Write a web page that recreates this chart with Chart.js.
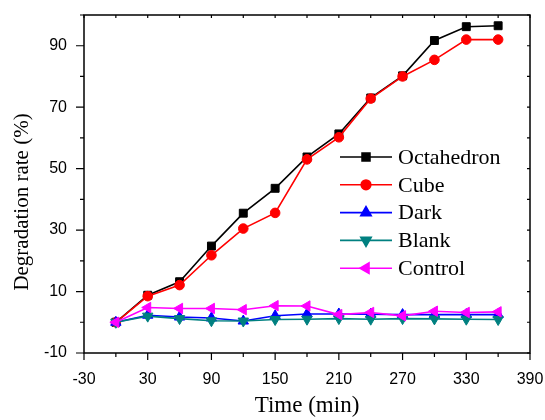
<!DOCTYPE html>
<html>
<head>
<meta charset="utf-8">
<script src="https://cdn.jsdelivr.net/npm/chart.js@4/dist/chart.umd.min.js"></script>
<style>
    html, body { margin: 0; padding: 0; background: #fff; }
</style>
</head>
<body>
<canvas id="chart" width="545" height="420"></canvas>
<script>
// data
const times = [0, 30, 60, 90, 120, 150, 180, 210, 240, 270, 300, 330, 360];
const octahedron = [0, 8.8, 13.2, 24.8, 35.5, 43.6, 53.8, 61.3, 73, 80.2, 91.7, 96.2, 96.5];
const cube = [0, 8.5, 12.1, 21.8, 30.5, 35.6, 53, 60.2, 72.8, 80, 85.4, 92, 92];
const dark = [0, 2.3, 1.7, 1.4, 0.4, 2.1, 2.7, 2.7, 2.6, 2.5, 2.5, 2.5, 2.5];
const blank = [0, 2, 1.2, 0.5, 0.4, 0.9, 1, 1.2, 1, 1.2, 1.1, 1, 0.9];
const control = [0, 4.8, 4.5, 4.5, 4.1, 5.4, 5.3, 2.5, 3.2, 2.1, 3.6, 3.2, 3.4];
const seriesNames = ["Octahedron", "Cube", "Dark", "Blank", "Control"];
const xTicks = [-30, 30, 90, 150, 210, 270, 330, 390];
const yTicks = [-10, 10, 30, 50, 70, 90];

const toPoints = (vals) => vals.map((v, i) => ({ x: times[i], y: v }));

function makeSet(name, vals, color, style, rot, radius, order) {
    return {
        label: name,
        data: toPoints(vals),
        borderColor: color,
        backgroundColor: color,
        borderWidth: 1.6,
        pointStyle: style,
        pointRotation: rot,
        pointRadius: radius,
        pointHoverRadius: radius,
        pointBorderWidth: 1,
        tension: 0,
        order: order,
    };
}

const datasets = [
    makeSet(seriesNames[0], octahedron, "#000000", "rect", 0, 5.6, 5),
    makeSet(seriesNames[1], cube, "#ff0000", "circle", 0, 4.8, 4),
    makeSet(seriesNames[2], dark, "#0000ff", "triangle", 0, 6, 3),
    makeSet(seriesNames[3], blank, "#008080", "triangle", 180, 6, 2),
    makeSet(seriesNames[4], control, "#ff00ff", "triangle", -90, 6, 1),
];

// frame, mirrored ticks, y title and the in-plot legend
const framePlugin = {
    id: "frame",
    afterDraw(chart) {
        const ctx = chart.ctx;
        const a = chart.chartArea;
        const xs = chart.scales.x;
        const ys = chart.scales.y;
        ctx.save();
        ctx.strokeStyle = "#000";
        ctx.lineWidth = 1.5;
        ctx.strokeRect(a.left, a.top, a.right - a.left, a.bottom - a.top);

        ctx.lineWidth = 1.2;
        ctx.beginPath();
        xs.ticks.forEach((t) => {
            const px = xs.getPixelForValue(t.value);
            const major = xTicks.includes(t.value);
            ctx.moveTo(px, a.bottom);
            ctx.lineTo(px, a.bottom + (major ? 7 : 4));
            ctx.moveTo(px, a.top);
            ctx.lineTo(px, a.top + 3);
        });
        ys.ticks.forEach((t) => {
            const py = ys.getPixelForValue(t.value);
            const major = yTicks.includes(t.value);
            ctx.moveTo(a.left, py);
            ctx.lineTo(a.left - (major ? 8 : 4), py);
            ctx.moveTo(a.right, py);
            ctx.lineTo(a.right - 3, py);
        });
        ctx.stroke();

        // y title
        ctx.fillStyle = "#000";
        ctx.font = '21px "Liberation Serif"';
        ctx.textAlign = "center";
        ctx.textBaseline = "middle";
        ctx.translate(22, 202);
        ctx.rotate(-Math.PI / 2);
        ctx.fillText("Degradation rate (%)", 0, 0);
        ctx.restore();

        // legend
        ctx.save();
        ctx.font = '22px "Liberation Serif"';
        ctx.textBaseline = "middle";
        ctx.fillStyle = "#000";
        chart.data.datasets.forEach((ds, i) => {
            const y = 157 + i * 27.8;
            ctx.strokeStyle = ds.borderColor;
            ctx.lineWidth = ds.borderWidth;
            ctx.beginPath();
            ctx.moveTo(340, y);
            ctx.lineTo(392, y);
            ctx.stroke();
            ctx.fillStyle = ds.backgroundColor;
            Chart.helpers.drawPoint(ctx, {
                pointStyle: ds.pointStyle,
                rotation: ds.pointRotation,
                radius: ds.pointRadius,
                borderWidth: 1,
            }, 366, y);
            ctx.fillStyle = "#000";
            ctx.fillText(ds.label, 398, y + 1);
        });
        ctx.restore();
    },
};

const ctx = document.getElementById("chart").getContext("2d");
new Chart(ctx, {
    type: "line",
    data: { datasets: datasets },
    options: {
        responsive: false,
        animation: false,
        layout: { padding: { top: 15, right: 15, left: 0, bottom: 0 } },
        plugins: {
            legend: { display: false },
            tooltip: { enabled: false },
        },
        scales: {
            x: {
                type: "linear",
                min: -30,
                max: 390,
                afterFit: (scale) => {
                    scale.height = 67;
                    scale.paddingLeft = 0;
                    scale.paddingRight = 0;
                },
                ticks: {
                    stepSize: 30,
                    autoSkip: false,
                    maxRotation: 0,
                    padding: 9,
                    color: "#000",
                    font: { family: "Liberation Sans", size: 16 },
                    callback: (v) => (xTicks.includes(v) ? v : ""),
                },
                grid: { drawOnChartArea: false, tickLength: 8, color: "rgba(0,0,0,0)" },
                border: { display: false },
                title: {
                    display: true,
                    text: "Time (min)",
                    color: "#000",
                    font: { family: "Liberation Serif", size: 23 },
                    padding: { top: 0, bottom: 0 },
                },
            },
            y: {
                min: -10,
                max: 100,
                afterFit: (scale) => {
                    scale.width = 84;
                    scale.paddingTop = 0;
                    scale.paddingBottom = 0;
                },
                ticks: {
                    stepSize: 10,
                    autoSkip: false,
                    padding: 9,
                    color: "#000",
                    font: { family: "Liberation Sans", size: 16 },
                    callback: (v) => (yTicks.includes(v) ? v : ""),
                },
                grid: { drawOnChartArea: false, tickLength: 8, color: "rgba(0,0,0,0)" },
                border: { display: false },
            },
        },
    },
    plugins: [framePlugin],
});
</script>
</body>
</html>
